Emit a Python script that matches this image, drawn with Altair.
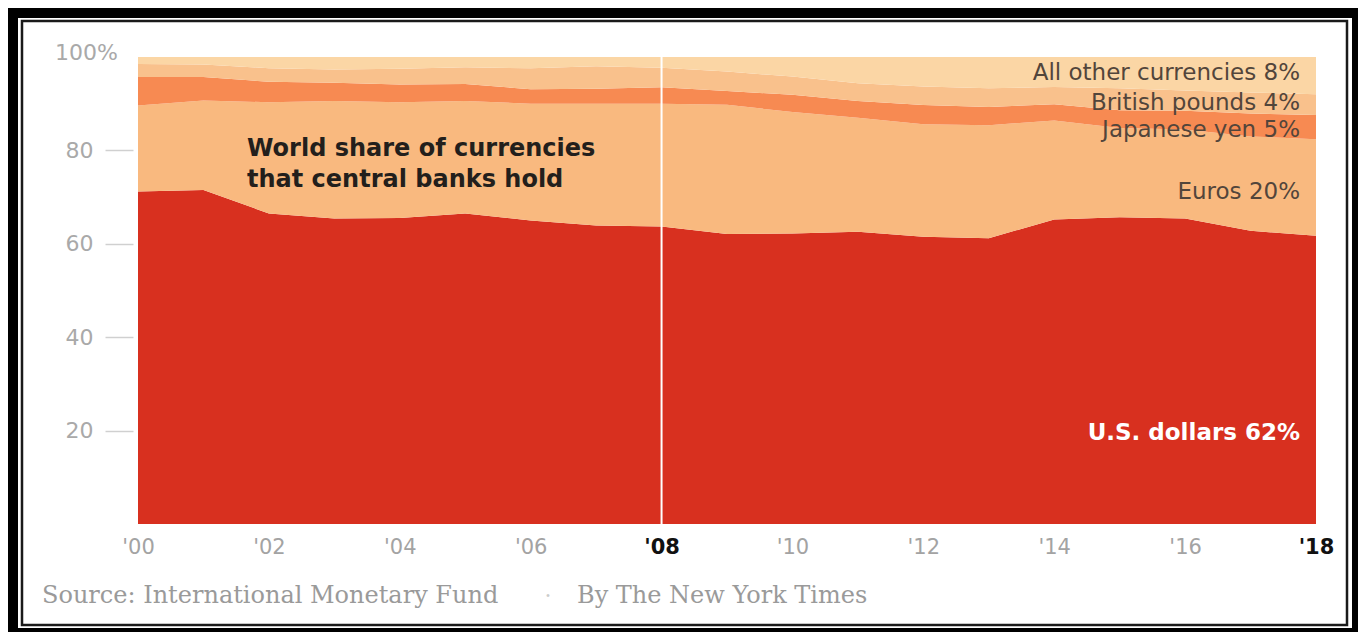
import altair as alt
import pandas as pd

# ---------------- data ----------------
years = list(range(2000, 2019))
currencies = ["U.S. dollars", "Euros", "Japanese yen", "British pounds", "All other currencies"]
usd = [71.2, 71.5, 66.5, 65.4, 65.5, 66.5, 65.0, 63.9, 63.7, 62.1, 62.2, 62.6, 61.5, 61.2, 65.2, 65.7, 65.4, 62.8, 61.7]
eur = [18.4, 19.2, 23.8, 25.2, 24.8, 24.1, 25.0, 26.1, 26.3, 27.7, 26.0, 24.4, 24.1, 24.2, 21.2, 19.1, 19.1, 20.2, 20.7]
jpy = [6.1, 5.0, 4.4, 3.9, 3.8, 3.6, 3.1, 3.2, 3.5, 2.9, 3.7, 3.6, 4.1, 3.9, 3.5, 3.8, 4.0, 4.9, 5.2]
gbp = [2.8, 2.7, 2.9, 2.8, 3.4, 3.6, 4.5, 4.8, 4.2, 4.2, 3.9, 3.8, 4.0, 4.0, 3.7, 4.7, 4.3, 4.5, 4.4]
oth = [1.5, 1.6, 2.4, 2.7, 2.5, 2.2, 2.4, 2.0, 2.3, 3.1, 4.2, 5.6, 6.3, 6.7, 6.4, 6.7, 7.2, 7.6, 8.0]
series = [usd, eur, jpy, gbp, oth]

tick_years = list(range(2000, 2019, 2))
y_ticks = [20, 40, 60, 80]
highlight_years = [2008]

title_lines = ["World share of currencies", "that central banks hold"]
end_labels = ["U.S. dollars 62%", "Euros  20%", "Japanese yen 5%", "British pounds 4%", "All other currencies 8%"]
source_text = "Source: International Monetary Fund"
byline_text = "By The New York Times"
separator_text = "\u00b7"
top_label = "100%"

# ---------------- styles / layout ----------------
colors = ["#d8301f", "#f9b97f", "#f78a52", "#f9c18c", "#fbd6a5"]
label_y = [19.5, 71.1, 84.4, 90.1, 96.6]   # label positions (layout), in % units
W, H = 1178, 467

rows = []
for ci, (name, vals) in enumerate(zip(currencies, series)):
    for yr, v in zip(years, vals):
        rows.append({"year": yr, "currency": name, "share": v, "ord": ci})
df = pd.DataFrame(rows)

lab_df = pd.DataFrame({
    "label": end_labels,
    "ly": label_y,
    "kind": ["usd", "other", "other", "other", "other"],
})
one = pd.DataFrame({"k": [0]})

x_scale = alt.Scale(domain=[2000, 2018], nice=False, zero=False)
y_scale = alt.Scale(domain=[0, 100], nice=False)

bold_test = "datum.value == 2008 || datum.value == 2018"

x_axis = alt.Axis(
    values=tick_years,
    labelExpr="\"'\" + substring(toString(datum.value), 2, 4)",
    title=None, domain=False, ticks=False, grid=False, zindex=1,
    labelFont="DejaVu Sans", labelFontSize=21, labelPadding=12,
    labelColor={"condition": {"test": bold_test, "value": "#111111"}, "value": "#a3a3a3"},
    labelFontWeight={"condition": {"test": bold_test, "value": "bold"}, "value": "normal"},
    labelFlush=False,
)
y_axis = alt.Axis(
    values=y_ticks, title=None, domain=False, grid=False, zindex=1,
    ticks=True, tickSize=28, tickColor="#d0d0d0", tickWidth=1.5,
    labelFont="DejaVu Sans", labelFontSize=22, labelColor="#a9a9a9",
    labelPadding=12, offset=5,
)

# frame
outer = alt.Chart(one).mark_rect(color="white").encode(
    x=alt.value(-120), x2=alt.value(1214), y=alt.value(-39), y2=alt.value(571))
inner = alt.Chart(one).mark_rect(fill="white", stroke="#1a1a1a", strokeWidth=2.5).encode(
    x=alt.value(-116), x2=alt.value(1209), y=alt.value(-36), y2=alt.value(568))

areas = alt.Chart(df).mark_area(interpolate="linear", opacity=1).encode(
    x=alt.X("year:Q", scale=x_scale, axis=x_axis),
    y=alt.Y("share:Q", stack="zero", scale=y_scale, axis=y_axis),
    color=alt.Color("currency:N", scale=alt.Scale(domain=currencies, range=colors), legend=None),
    order=alt.Order("ord:Q", sort="ascending"),
)

rule = alt.Chart(pd.DataFrame({"year": highlight_years})).mark_rule(
    color="white", strokeWidth=2).encode(x=alt.X("year:Q", scale=x_scale),
                                         y=alt.value(-2), y2=alt.value(H))

title_txt = alt.Chart(one).mark_text(
    text=title_lines, align="left", baseline="top", font="DejaVu Sans",
    fontWeight="bold", fontSize=24, lineHeight=31, color="#231f1c",
).encode(x=alt.value(109), y=alt.value(80))

other_labels = alt.Chart(lab_df).transform_filter("datum.kind == 'other'").mark_text(
    align="right", baseline="middle", font="DejaVu Sans", fontSize=23, color="#52453b",
).encode(x=alt.value(W - 16), y=alt.Y("ly:Q", scale=y_scale), text="label:N")

usd_label = alt.Chart(lab_df).transform_filter("datum.kind == 'usd'").mark_text(
    align="right", baseline="middle", font="DejaVu Sans", fontSize=23, fontWeight="bold",
    color="white",
).encode(x=alt.value(W - 16), y=alt.Y("ly:Q", scale=y_scale), text="label:N")

top_txt = alt.Chart(one).mark_text(
    text=top_label, align="right", baseline="middle", font="DejaVu Sans",
    fontSize=22, color="#a9a9a9",
).encode(x=alt.value(-20), y=alt.value(-4))

src = alt.Chart(one).mark_text(
    text=source_text, align="left", baseline="middle", font="DejaVu Serif",
    fontSize=24, color="#9a9a9a",
).encode(x=alt.value(-96), y=alt.value(539))
sep = alt.Chart(one).mark_text(
    text=separator_text, align="center", baseline="middle", font="DejaVu Serif",
    fontSize=22, color="#cccccc",
).encode(x=alt.value(410), y=alt.value(539))
byl = alt.Chart(one).mark_text(
    text=byline_text, align="left", baseline="middle", font="DejaVu Serif",
    fontSize=24, color="#9a9a9a",
).encode(x=alt.value(439), y=alt.value(539))

chart = alt.layer(
    outer, inner, areas, rule, title_txt, other_labels, usd_label, top_txt, src, sep, byl
).properties(
    width=W, height=H,
    autosize=alt.AutoSizeParams(type="none"),
    padding={"left": 130, "top": 49, "right": 42, "bottom": 108},
).configure(background="black").configure_view(stroke=None)

chart.save("out.html", embed_options={"renderer": "svg", "actions": False})
